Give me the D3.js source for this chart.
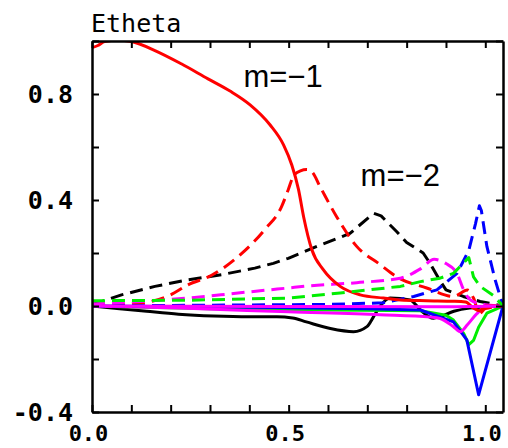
<!DOCTYPE html>
<html>
<head>
<meta charset="utf-8">
<script src="https://cdn.jsdelivr.net/npm/d3@7"></script>
<style>
  html, body { margin: 0; padding: 0; background: #fff; }
  svg { display: block; }
</style>
</head>
<body>
<svg id="chart" width="508" height="448"></svg>
<script>
// ---------------- data ----------------
const chartTitle = "Etheta";
const xTickValues = [0, 0.1, 0.2, 0.3, 0.4, 0.5, 0.6, 0.7, 0.8, 0.9, 1.0];
const xTickLabels = ["0.0", "", "", "", "", "0.5", "", "", "", "", "1.0"];
const yTickValues = [-0.4, -0.2, 0.0, 0.2, 0.4, 0.6, 0.8, 1.0];
const yTickLabels = ["-0.4", "", "0.0", "", "0.4", "", "0.8", ""];
const annotations = ["m=\u22121", "m=\u22122"];

const xRedSolid = [0, 0.015, 0.032, 0.066, 0.10, 0.16, 0.227, 0.295, 0.351, 0.402, 0.453, 0.487, 0.508, 0.525, 0.538, 0.559, 0.588, 0.631, 0.682, 0.741, 0.784, 0.85, 0.92, 0.95, 0.97, 0.985, 1.0, 1.045];
const yRedSolid = [0.975, 0.983, 0.998, 1.004, 0.998, 0.964, 0.914, 0.857, 0.811, 0.759, 0.683, 0.608, 0.532, 0.440, 0.337, 0.212, 0.137, 0.074, 0.042, 0.030, 0.023, 0.020, 0.018, 0.015, -0.008, -0.018, 0.0, 0.0];

const xRedDashed = [0, 0.05, 0.10, 0.151, 0.20, 0.244, 0.303, 0.371, 0.439, 0.482, 0.499, 0.512, 0.53, 0.546, 0.56, 0.58, 0.622, 0.673, 0.733, 0.775, 0.851, 0.919, 0.955, 0.97, 0.985, 1.0, 1.045];
const yRedDashed = [0.0, 0.003, 0.008, 0.017, 0.042, 0.08, 0.115, 0.186, 0.288, 0.375, 0.439, 0.49, 0.51, 0.515, 0.505, 0.45, 0.337, 0.225, 0.156, 0.11, 0.068, 0.036, 0.06, 0.03, -0.028, -0.01, 0.0];

const xBlackDashed = [0, 0.075, 0.16, 0.244, 0.329, 0.414, 0.461, 0.499, 0.572, 0.656, 0.716, 0.735, 0.775, 0.80, 0.842, 0.86, 0.885, 0.90, 0.944, 0.987, 1.045];
const yBlackDashed = [0.005, 0.042, 0.074, 0.099, 0.118, 0.143, 0.161, 0.18, 0.225, 0.274, 0.35, 0.34, 0.28, 0.24, 0.2, 0.16, 0.095, 0.061, 0.036, 0.017, 0.0];

const xMagentaDashed = [0, 0.1, 0.244, 0.371, 0.499, 0.546, 0.673, 0.784, 0.835, 0.87, 0.90, 0.928, 0.945, 0.962, 1.0, 1.045];
const yMagentaDashed = [0.008, 0.015, 0.03, 0.049, 0.068, 0.075, 0.088, 0.105, 0.14, 0.176, 0.16, 0.123, 0.061, 0.023, 0.005, 0.0];

const xGreenDashed = [0, 0.25, 0.5, 0.631, 0.784, 0.835, 0.885, 0.919, 0.958, 0.97, 0.987, 1.02, 1.045];
const yGreenDashed = [0.02, 0.022, 0.03, 0.049, 0.074, 0.092, 0.105, 0.123, 0.183, 0.11, 0.074, 0.04, 0.0];

const xBlueDashed = [0, 0.3, 0.6, 0.74, 0.818, 0.877, 0.928, 0.958, 0.975, 0.985, 0.99, 1.004, 1.025, 1.045];
const yBlueDashed = [0.0, 0.003, 0.006, 0.012, 0.036, 0.061, 0.123, 0.21, 0.31, 0.378, 0.36, 0.225, 0.099, 0.0];

const xBlackSolid = [0, 0.07, 0.139, 0.22, 0.309, 0.40, 0.47, 0.51, 0.545, 0.606, 0.665, 0.699, 0.716, 0.733, 0.758, 0.809, 0.835, 0.868, 0.885, 0.92, 0.96, 1.045];
const yBlackSolid = [0.0, -0.01, -0.02, -0.031, -0.038, -0.041, -0.041, -0.045, -0.06, -0.085, -0.097, -0.078, -0.04, 0.0, 0.03, 0.023, -0.015, -0.046, -0.04, -0.02, -0.008, 0.0];

const xBlueSolid = [0, 0.4, 0.7, 0.835, 0.919, 0.953, 0.983, 1.045];
const yBlueSolid = [0.0, -0.005, -0.01, -0.015, -0.06, -0.128, -0.335, 0.0];

const xGreenSolid = [0, 0.3, 0.6, 0.835, 0.90, 0.919, 0.945, 0.958, 0.97, 0.983, 1.004, 1.045];
const yGreenSolid = [0.0, -0.01, -0.015, -0.018, -0.035, -0.053, -0.103, -0.146, -0.13, -0.08, -0.027, 0.0];

const xMagentaSolid = [0, 0.224, 0.5, 0.733, 0.86, 0.885, 0.919, 0.936, 0.955, 0.978, 1.0, 1.045];
const yMagentaSolid = [0.0, -0.008, -0.022, -0.033, -0.042, -0.047, -0.078, -0.097, -0.07, -0.03, -0.005, 0.0];

const xMagentaFlat = [0, 0.5, 0.9, 0.97, 1.045];
const yMagentaFlat = [0.0, -0.002, -0.003, -0.002, 0.0];

// ---------------- styles (kept apart from data) ----------------
const seriesStyles = {
  blackSolid:    { color: "#000000", dash: null, curve: d3.curveMonotoneX },
  redSolid:      { color: "#ff0000", dash: null, curve: d3.curveMonotoneX },
  greenSolid:    { color: "#00ee00", dash: null, curve: d3.curveLinear },
  blueSolid:     { color: "#0000ff", dash: null, curve: d3.curveLinear },
  magentaSolid:  { color: "#ff00ff", dash: null, curve: d3.curveMonotoneX },
  blackDashed:   { color: "#000000", dash: "13,7", curve: d3.curveLinear },
  redDashed:     { color: "#ff0000", dash: "13,7", curve: d3.curveMonotoneX },
  greenDashed:   { color: "#00ee00", dash: "13,7", curve: d3.curveLinear },
  blueDashed:    { color: "#0000ff", dash: "13,7", curve: d3.curveLinear },
  magentaDashed: { color: "#ff00ff", dash: "13,7", curve: d3.curveMonotoneX },
  magentaFlat:   { color: "#ff00ff", dash: null, curve: d3.curveMonotoneX }
};

const seriesTable = [
  ["blackSolid", xBlackSolid, yBlackSolid],
  ["greenSolid", xGreenSolid, yGreenSolid],
  ["blueSolid", xBlueSolid, yBlueSolid],
  ["magentaSolid", xMagentaSolid, yMagentaSolid],
  ["blackDashed", xBlackDashed, yBlackDashed],
  ["redDashed", xRedDashed, yRedDashed],
  ["blueDashed", xBlueDashed, yBlueDashed],
  ["magentaDashed", xMagentaDashed, yMagentaDashed],
  ["redSolid", xRedSolid, yRedSolid],
  ["magentaFlat", xMagentaFlat, yMagentaFlat],
  ["greenDashed", xGreenDashed, yGreenDashed]
].map(([name, xs, ys]) => ({ name, points: xs.map((x, i) => [x, ys[i]]) }));

// ---------------- layout ----------------
const L = 92, R = 503, T = 41, B = 412;
const x = d3.scaleLinear().domain([0, 1.045]).range([L, R]);
const y = d3.scaleLinear().domain([-0.4, 1.0]).range([B, T]);

const svg = d3.select("#chart");

svg.append("defs").append("clipPath").attr("id", "plotclip")
  .append("rect").attr("x", L).attr("y", T).attr("width", R - L).attr("height", B - T);

const lines = svg.append("g").attr("clip-path", "url(#plotclip)");
seriesTable.forEach(s => {
  const st = seriesStyles[s.name];
  const gen = d3.line().x(d => x(d[0])).y(d => y(d[1])).curve(st.curve);
  lines.append("path")
    .attr("d", gen(s.points))
    .attr("fill", "none")
    .attr("stroke", st.color)
    .attr("stroke-width", 3)
    .attr("stroke-dasharray", st.dash)
    .attr("stroke-linejoin", "round");
});

// axes
const tickFont = "'DejaVu Sans Mono', monospace";
function styleAxis(g, size) {
  g.selectAll(".domain").attr("stroke", "#000").attr("stroke-width", 2.5);
  g.selectAll(".tick line").attr("stroke", "#000").attr("stroke-width", 2);
  g.selectAll("text").attr("font-family", tickFont).attr("font-size", size || 25)
    .attr("font-weight", "bold").attr("fill", "#000");
}

const xAxisB = d3.axisBottom(x).tickValues(xTickValues)
  .tickFormat((d, i) => xTickLabels[i]).tickSize(-7).tickSizeOuter(0).tickPadding(13);
const gxb = svg.append("g").attr("transform", `translate(0,${B})`).call(xAxisB);
styleAxis(gxb, 22);
gxb.selectAll("text").attr("dx", -4);

const xAxisT = d3.axisTop(x).tickValues(xTickValues).tickFormat("").tickSize(-7).tickSizeOuter(0);
styleAxis(svg.append("g").attr("transform", `translate(0,${T})`).call(xAxisT));

const yAxisL = d3.axisLeft(y).tickValues(yTickValues)
  .tickFormat((d, i) => yTickLabels[i]).tickSize(-7).tickSizeOuter(0).tickPadding(19);
styleAxis(svg.append("g").attr("transform", `translate(${L},0)`).call(yAxisL));

const yAxisR = d3.axisRight(y).tickValues(yTickValues).tickFormat("").tickSize(-7).tickSizeOuter(0);
styleAxis(svg.append("g").attr("transform", `translate(${R},0)`).call(yAxisR));

// title
svg.append("text").attr("x", 91).attr("y", 31.5)
  .attr("font-family", tickFont).attr("font-size", 25).attr("fill", "#000")
  .text(chartTitle);

// annotations
const annPos = [[0.385, 0.826], [0.683, 0.451]];
annotations.forEach((t, i) => {
  svg.append("text").attr("x", x(annPos[i][0])).attr("y", y(annPos[i][1]))
    .attr("font-family", "'Liberation Sans', Arial, sans-serif")
    .attr("font-size", 31).attr("fill", "#000").text(t);
});
</script>
</body>
</html>
